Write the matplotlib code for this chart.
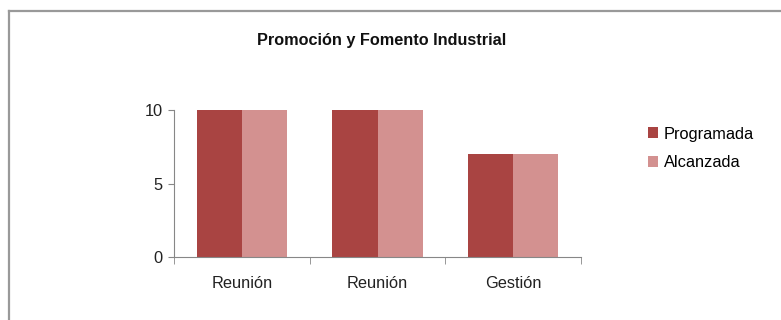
import matplotlib.pyplot as plt
import numpy as np
from matplotlib.lines import Line2D

plt.rcParams['font.family'] = ['Liberation Sans', 'DejaVu Sans']

# datos de la gráfica
categorias = ["Reunión", "Reunión", "Gestión"]
programada = [10, 10, 7]
alcanzada = [10, 10, 7]
series = ["Programada", "Alcanzada"]
colores = ["#A94442", "#D39190"]

fig = plt.figure(figsize=(7.81, 3.2), dpi=100)
ax = fig.add_axes([174 / 781, 1 - 257 / 320, (581 - 174) / 781, (257 - 110) / 320])

x = np.arange(len(categorias))
ancho = 1 / 3
ax.bar(x - ancho / 2, programada, ancho, color=colores[0], label=series[0])
ax.bar(x + ancho / 2, alcanzada, ancho, color=colores[1], label=series[1])

ax.set_xlim(-0.5, len(categorias) - 0.5)
ax.set_ylim(0, 10)
ax.set_yticks([0, 5, 10])
ax.set_xticks(x)
ax.set_xticklabels(categorias)
ax.set_xticks(np.arange(len(categorias) + 1) - 0.5, minor=True)

gris = "#878787"
for s in ["top", "right"]:
    ax.spines[s].set_visible(False)
for s in ["left", "bottom"]:
    ax.spines[s].set_color(gris)
ax.tick_params(axis="x", which="major", length=0, pad=14, labelsize=11.8, colors="#222222")
ax.tick_params(axis="x", which="minor", length=5, color=gris)
ax.tick_params(axis="y", length=4, color=gris, labelsize=11.8, labelcolor="#222222", pad=4)

fig.text(382 / 781, 1 - 41 / 320, "Promoción y Fomento Industrial", ha="center", va="center",
         fontsize=11.7, fontweight="bold", color="#111111")

ax.legend(loc="upper left", bbox_to_anchor=(641 / 781, 1 - 120 / 320), bbox_transform=fig.transFigure,
          frameon=False, fontsize=11.8, handlelength=0.65, handleheight=0.65, handletextpad=0.35,
          labelspacing=0.85, borderaxespad=0)

# marco del gráfico
fig.add_artist(Line2D([8.5 / 781, 8.5 / 781], [0, 1 - 10.5 / 320], transform=fig.transFigure, color="#999999", lw=1.6))
fig.add_artist(Line2D([8.5 / 781, 1], [1 - 10.5 / 320, 1 - 10.5 / 320], transform=fig.transFigure, color="#999999", lw=1.6))

fig.savefig("out.png", dpi=100)
